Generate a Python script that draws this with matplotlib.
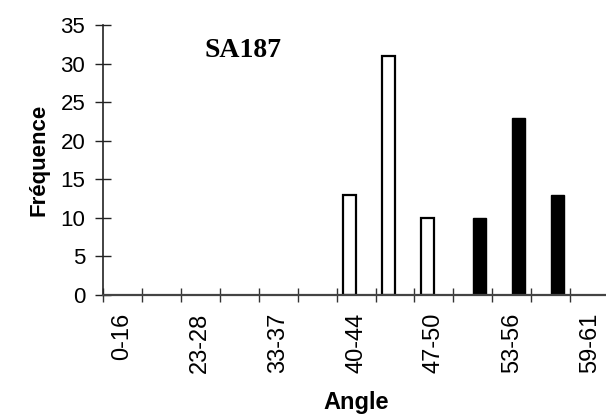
import numpy as np
import matplotlib
matplotlib.use('Agg')
import matplotlib.pyplot as plt

# angle classes (only every other one is labelled on the chart)
categories = ['0-16', '', '23-28', '', '33-37', '', '40-44', '', '47-50', '', '53-56', '', '59-61']
white_vals = [0, 0, 0, 0, 0, 0, 13, 31, 10, 0, 0, 0, 0]
black_vals = [0, 0, 0, 0, 0, 0, 0, 0, 0, 10, 23, 13, 0]
y_ticks = [0, 5, 10, 15, 20, 25, 30, 35]

plt.rcParams['font.family'] = ['Liberation Sans', 'DejaVu Sans']

fig = plt.figure(figsize=(6.06, 4.16), dpi=100)
ax = fig.add_axes([0.1695, 0.291, 0.836, 0.649])

x = np.arange(len(categories))
w = 0.33
wv = np.array(white_vals, dtype=float)
bv = np.array(black_vals, dtype=float)
m = wv > 0
ax.bar(x[m] - 0.17, wv[m], width=w, color='white', edgecolor='black', linewidth=1.6)
m = bv > 0
ax.bar(x[m] + 0.17, bv[m], width=w, color='black', edgecolor='black', linewidth=1.0)

ax.set_xlim(-0.5, len(categories) - 0.5)
ax.set_ylim(0, 35)

for s in ['top', 'right']:
    ax.spines[s].set_visible(False)
ax.spines['left'].set_color('#222222')
ax.spines['bottom'].set_color('#444444')
ax.spines['left'].set_linewidth(1.2)
ax.spines['bottom'].set_linewidth(1.6)

ax.set_yticks(y_ticks)
ax.tick_params(axis='y', direction='inout', length=11, width=1.0, labelsize=16, pad=7, color='#222222')

# boundary ticks between classes, labels at class centres
ax.set_xticks(np.arange(len(categories) + 1) - 0.5)
ax.set_xticklabels([])
ax.set_xticks(x[::2], minor=True)
ax.set_xticklabels(categories[::2], minor=True, rotation=90, fontsize=17)
ax.tick_params(axis='x', which='major', direction='inout', length=10, width=1.0, color='#333333')
ax.tick_params(axis='x', which='minor', length=0, pad=13)

ax.set_ylabel('Fréquence', fontsize=16, fontweight='bold', labelpad=8)
ax.set_xlabel('Angle', fontsize=17, fontweight='bold', labelpad=13)

ax.text(0.2, 0.905, 'SA187', transform=ax.transAxes, fontsize=20, fontweight='bold',
        family='Liberation Serif', va='center', ha='left')

fig.savefig('out.png', dpi=100)
